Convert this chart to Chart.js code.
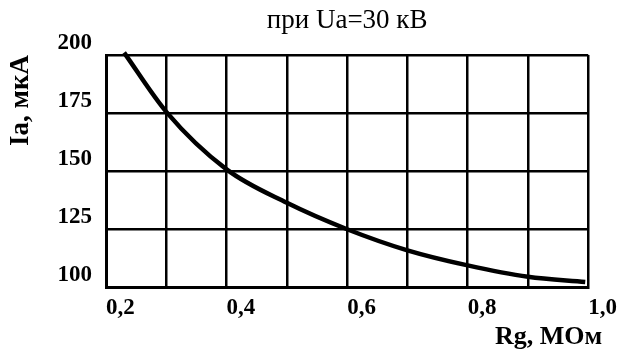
<!DOCTYPE html>
<html>
<head>
<meta charset="utf-8">
<script src="https://cdn.jsdelivr.net/npm/chart.js@4.4.1/dist/chart.umd.min.js"></script>
<style>
  html, body { margin: 0; padding: 0; background: #fff; }
  #chart { display: block; }
</style>
</head>
<body>
<canvas id="chart" width="624" height="349"></canvas>
<script>
/* ══════════════════════════════════════════
   Ia(Rg) при Ua=30 кВ
   ══════════════════════════════════════════ */
const rgValues = [0.23, 0.3, 0.4, 0.5, 0.6, 0.7, 0.8, 0.9, 0.995];
const iaValues = [201, 175.5, 150.7, 136.3, 124.9, 115.8, 109.3, 104.4, 102.2];
const xTickLabels = ['0,2', '0,4', '0,6', '0,8', '1,0'];
const yTickLabels = ['100', '125', '150', '175', '200'];
const xAxisTitle = 'Rg, МОм';

const SERIF = "'Liberation Serif', 'Times New Roman', serif";

Chart.defaults.color = '#000';
Chart.defaults.font.family = SERIF;

const points = rgValues.map((x, i) => ({ x, y: iaValues[i] }));

// x-axis title sits past the right edge of the plot, like in the original
const xTitlePlugin = {
  id: 'xTitle',
  afterDraw(chart) {
    const { ctx, chartArea } = chart;
    ctx.save();
    ctx.font = `bold 26px ${SERIF}`;
    ctx.fillStyle = '#000';
    ctx.textAlign = 'right';
    ctx.textBaseline = 'alphabetic';
    ctx.fillText(xAxisTitle, chartArea.right + 14, 344);
    ctx.restore();
  },
};

new Chart(document.getElementById('chart').getContext('2d'), {
  type: 'line',
  data: {
    datasets: [
      {
        data: points,
        borderColor: '#000',
        borderWidth: 4.5,
        pointRadius: 0,
        cubicInterpolationMode: 'monotone',
        fill: false,
        clip: false,
      },
    ],
  },
  plugins: [xTitlePlugin],
  options: {
    responsive: false,
    animation: false,
    layout: { padding: { left: 0, right: 30, top: 0, bottom: 0 } },
    plugins: {
      legend: { display: false },
      tooltip: { enabled: false },
      title: {
        display: true,
        text: 'при Ua=30 кВ',
        fullSize: false,
        color: '#000',
        font: { family: SERIF, size: 27, weight: 'normal', lineHeight: 1.2 },
        padding: { top: 5, bottom: 17.6 },
      },
    },
    scales: {
      x: {
        type: 'linear',
        min: 0.2,
        max: 1.0,
        afterFit: s => { s.height = 62; },
        border: { color: '#000', width: 3 },
        grid: { color: '#000', lineWidth: 2.5, drawTicks: false },
        ticks: {
          stepSize: 0.1,
          align: 'start',
          padding: 7,
          maxRotation: 0,
          autoSkip: false,
          font: { family: SERIF, size: 23, weight: 'bold' },
          callback: (v, i) => (i % 2 === 0 ? xTickLabels[i / 2] : ''),
        },
      },
      y: {
        min: 100,
        max: 200,
        afterFit: s => { s.width = 106; },
        border: { color: '#000', width: 3 },
        grid: { color: '#000', lineWidth: 2.5, drawTicks: false },
        ticks: {
          stepSize: 25,
          align: 'end',
          padding: 14,
          font: { family: SERIF, size: 23, weight: 'bold' },
          callback: (v, i) => yTickLabels[i],
        },
        title: {
          display: true,
          text: 'Ia, мкА',
          align: 'end',
          font: { family: SERIF, size: 27, weight: 'bold', lineHeight: 1.2 },
          padding: { top: 5, bottom: 0 },
        },
      },
    },
  },
});
</script>
</body>
</html>
